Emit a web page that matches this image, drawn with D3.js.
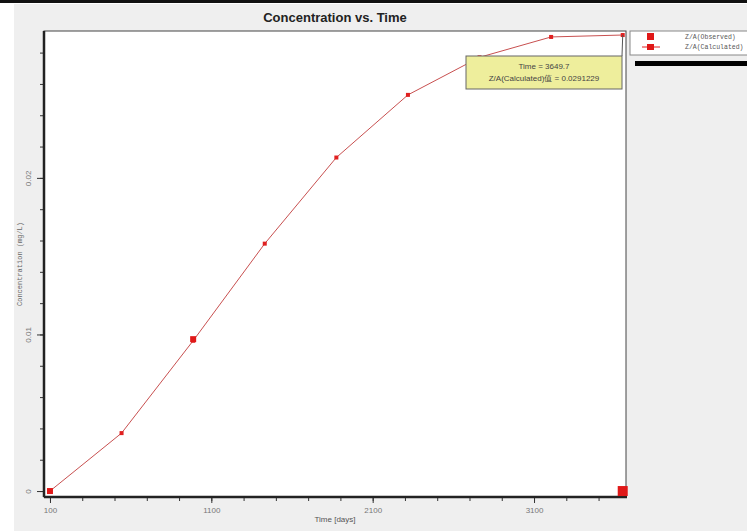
<!DOCTYPE html>
<html lang="en">
<head>
<meta charset="UTF-8">
<title>Concentration vs. Time</title>
<script src="https://d3js.org/d3.v7.min.js"></script>
<style>
  body { margin: 0; background: #fff; }
</style>
</head>
<body>
<svg id="chart"></svg>
<script>
const calcTimes = [100, 543.7, 987.4, 1431.1, 1874.9, 2318.6, 2762.3, 3206.0, 3649.7];
const calcValues = [0, 0.0037, 0.0096, 0.0158, 0.0213, 0.0253, 0.0277, 0.0290, 0.0291229];
const obsTimes = [100, 987.4, 3649.7];
const obsValues = [0, 0.0097, 0];
const xTicks = [100, 1100, 2100, 3100];
const yTicks = [0, 0.01, 0.02];
const legendLabels = ["Z/A(Observed)", "Z/A(Calculated)"];

const width = 747, height = 531;
const plot = { left: 44, right: 626, top: 31, bottom: 497 };

const svg = d3.select("#chart").attr("width", width).attr("height", height)
  .style("font-family", "Arial, 'Liberation Sans', sans-serif");

// window background
svg.append("rect").attr("x", 0).attr("y", 0).attr("width", width).attr("height", height).attr("fill", "#fff");
svg.append("rect").attr("x", 14).attr("y", 4).attr("width", width - 14).attr("height", height - 4).attr("fill", "#efefef");
svg.append("rect").attr("x", 0).attr("y", 0).attr("width", width).attr("height", 3).attr("fill", "#111");

const x = d3.scaleLinear().domain([63, 3670]).range([plot.left, plot.right]);
const y = d3.scaleLinear().domain([-0.00038, 0.02938]).range([plot.bottom, plot.top]);

svg.append("rect").attr("x", plot.left).attr("y", plot.top)
  .attr("width", plot.right - plot.left).attr("height", plot.bottom - plot.top)
  .attr("fill", "#fff").attr("stroke", "#444").attr("stroke-width", 1);

// title
svg.append("text").attr("x", (plot.left + plot.right) / 2).attr("y", 22)
  .attr("text-anchor", "middle").attr("font-size", 13).attr("font-weight", "bold")
  .attr("fill", "#222").text("Concentration vs. Time");

// x axis
const xMinor = d3.range(100, 3650, 200);
const xAxisG = svg.append("g").attr("transform", `translate(0,${plot.bottom})`);
xAxisG.call(d3.axisBottom(x).tickValues(xMinor).tickSize(4).tickFormat(""))
  .call(g => g.select(".domain").remove());
xAxisG.append("g").call(d3.axisBottom(x).tickValues(xTicks).tickSize(6).tickFormat(d3.format("d")))
  .call(g => g.select(".domain").remove())
  .call(g => g.selectAll("text").attr("font-size", 8).attr("fill", "#777").attr("dy", "0.9em"));
xAxisG.selectAll("line").attr("stroke", "#333");
svg.append("line").attr("x1", plot.left).attr("x2", plot.right + 1)
  .attr("y1", plot.bottom).attr("y2", plot.bottom).attr("stroke", "#222").attr("stroke-width", 2.5);

svg.append("text").attr("x", (plot.left + plot.right) / 2).attr("y", 522)
  .attr("text-anchor", "middle").attr("font-size", 8).attr("fill", "#555").text("Time [days]");

// y axis
const yMinor = d3.range(0, 0.0291, 0.002);
const yAxisG = svg.append("g").attr("transform", `translate(${plot.left},0)`);
yAxisG.call(d3.axisLeft(y).tickValues(yMinor).tickSize(4).tickFormat(""))
  .call(g => g.select(".domain").remove());
yAxisG.append("g").call(d3.axisLeft(y).tickValues(yTicks).tickSize(7).tickFormat(d => d === 0 ? "0" : d3.format(".2f")(d)))
  .call(g => g.select(".domain").remove())
  .call(g => g.selectAll("text")
    .attr("font-size", 8).attr("fill", "#777")
    .attr("text-anchor", "middle").attr("x", 0).attr("dy", 0)
    .attr("transform", "translate(-13,0) rotate(-90)"));
yAxisG.selectAll("line").attr("stroke", "#333");
svg.append("line").attr("x1", plot.left).attr("x2", plot.left)
  .attr("y1", plot.top).attr("y2", plot.bottom).attr("stroke", "#222").attr("stroke-width", 2.5);

svg.append("text").attr("transform", `translate(22,${(plot.top + plot.bottom) / 2}) rotate(-90)`)
  .attr("text-anchor", "middle").attr("font-size", 7)
  .attr("font-family", "'Liberation Mono', 'DejaVu Sans Mono', monospace")
  .attr("fill", "#666").text("Concentration (mg/L)");

// calculated line
const calc = calcTimes.map((t, i) => ({ t, v: calcValues[i] }));
const obs = obsTimes.map((t, i) => ({ t, v: obsValues[i] }));
const line = d3.line().x(d => x(d.t)).y(d => y(d.v));
svg.append("path").datum(calc).attr("d", line)
  .attr("fill", "none").attr("stroke", "#c85050").attr("stroke-width", 1);
svg.selectAll(".calc-pt").data(calc).enter().append("rect").attr("class", "calc-pt")
  .attr("x", d => x(d.t) - 2).attr("y", d => y(d.v) - 2)
  .attr("width", 4).attr("height", 4).attr("fill", "#e02020");

// observed markers
svg.selectAll(".obs-pt").data(obs).enter().append("rect").attr("class", "obs-pt")
  .attr("x", (d, i) => x(d.t) - (i === obs.length - 1 ? 5 : 3))
  .attr("y", (d, i) => y(d.v) - (i === obs.length - 1 ? 5 : 3))
  .attr("width", (d, i) => i === obs.length - 1 ? 10 : 6)
  .attr("height", (d, i) => i === obs.length - 1 ? 10 : 6)
  .attr("fill", "#e01818");

// tooltip for last calculated point
const last = calc[calc.length - 1];
const tip = { x: 466, y: 56, w: 156, h: 33 };
svg.append("line").attr("x1", tip.x + tip.w).attr("y1", tip.y)
  .attr("x2", x(last.t)).attr("y2", y(last.v)).attr("stroke", "#555").attr("stroke-width", 1);
svg.append("rect").attr("x", tip.x).attr("y", tip.y).attr("width", tip.w).attr("height", tip.h)
  .attr("fill", "#eeee9c").attr("stroke", "#666").attr("stroke-width", 1);
svg.append("text").attr("x", tip.x + tip.w / 2).attr("y", tip.y + 13)
  .attr("text-anchor", "middle").attr("font-size", 8).attr("fill", "#444")
  .text("Time = " + last.t);
svg.append("text").attr("x", tip.x + tip.w / 2).attr("y", tip.y + 25)
  .attr("text-anchor", "middle").attr("font-size", 8).attr("fill", "#444")
  .text(legendLabels[1] + "值 = " + last.v);

// legend
const lg = svg.append("g").attr("transform", "translate(630,31)");
lg.append("rect").attr("x", 0).attr("y", 0).attr("width", 130).attr("height", 24)
  .attr("fill", "#fff").attr("stroke", "#888");
lg.append("rect").attr("x", 17).attr("y", 2).attr("width", 7).attr("height", 7).attr("fill", "#e01818");
lg.append("line").attr("x1", 12).attr("x2", 30).attr("y1", 16).attr("y2", 16).attr("stroke", "#e02020");
lg.append("rect").attr("x", 17).attr("y", 13).attr("width", 7).attr("height", 6).attr("fill", "#e01818");
lg.selectAll(".lg-text").data(legendLabels).enter().append("text").attr("class", "lg-text")
  .attr("x", 55).attr("y", (d, i) => 8 + i * 10)
  .attr("font-size", 6.5).attr("font-family", "'Liberation Mono', 'DejaVu Sans Mono', monospace")
  .attr("fill", "#555").text(d => d);
svg.append("rect").attr("x", 635).attr("y", 61).attr("width", 112).attr("height", 5).attr("fill", "#000");
</script>
</body>
</html>
